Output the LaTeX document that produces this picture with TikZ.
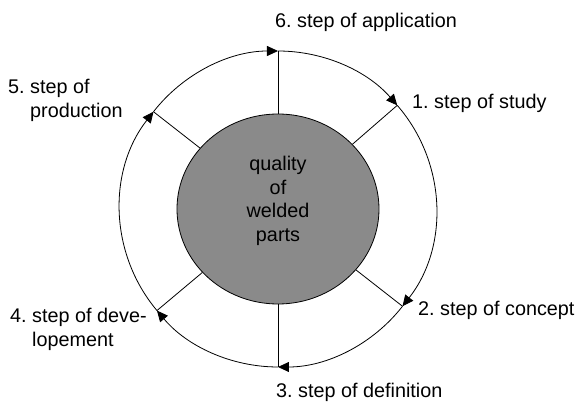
\documentclass[tikz,border=0pt]{standalone}
\usepackage{fontspec}
\setmainfont{Liberation Sans}
\usetikzlibrary{arrows.meta,shapes.geometric}

\frenchspacing

\tikzset{
  hub/.style={ellipse, draw, line width=0.8pt, fill=black!46,
    minimum width=202pt, minimum height=190pt, inner sep=0pt},
  spoke/.style={line width=0.8pt},
  flow/.style={line width=0.8pt, -{Triangle[length=11pt,width=10pt]}},
  steptext/.style={font=\fontsize{19.8}{23.5}\selectfont, inner sep=0pt}
}

\begin{document}
\begin{tikzpicture}[x=1pt, y=1pt]
  \useasboundingbox (-278,-194) rectangle (301,209);

  % points of the cycle on the outer ring
  \foreach \n/\a in {1/41, 2/-38, 3/-90, 4/-140, 5/142, 6/90} {
    \coordinate (s\n) at (\a:158);
  }

  % centre
  \node[hub] (hub) at (0,0) {};
  \node[steptext] (hubtext) at (0,7.5)
    {\begin{tabular}{@{}c@{}}quality\\of\\welded\\parts\end{tabular}};

  % spokes
  \foreach \n in {1,...,6} {
    \draw[spoke] (hub) -- (s\n);
  }

  % outer ring, clockwise
  \foreach \from/\a/\b in {6/90/41, 1/41/-38, 2/-38/-90, 3/-90/-140, 4/-140/-218, 5/142/90} {
    \draw[flow] (s\from) arc[start angle=\a, end angle=\b, radius=158];
  }

  % step labels
  \node[steptext, anchor=base west] (l6) at (-3,181) {6. step of application};
  \node[steptext, anchor=base west] (l1) at (134,100) {1. step of study};
  \node[steptext, anchor=base west] (l2) at (140,-107) {2. step of concept};
  \node[steptext, anchor=base west] (l3) at (-2,-189) {3. step of definition};
  \node[steptext, anchor=base west] (l4) at (-268,-114)
    {\begin{tabular}[t]{@{}l@{}}4. step of deve-\\\hphantom{4.\ }lopement\end{tabular}};
  \node[steptext, anchor=base west] (l5) at (-270,115)
    {\begin{tabular}[t]{@{}l@{}}5. step of\\\hphantom{5.\ }production\end{tabular}};

\end{tikzpicture}
\end{document}
